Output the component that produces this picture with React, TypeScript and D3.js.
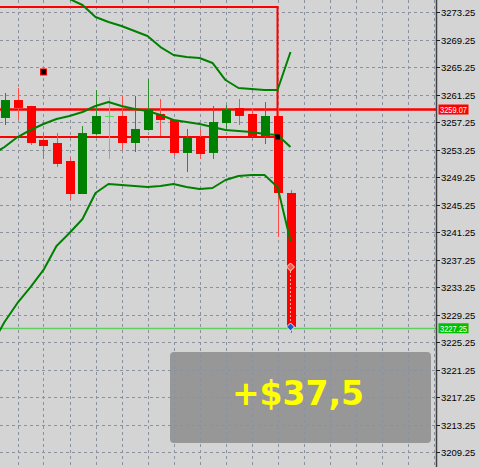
import React from "react";
import * as d3 from "d3";

// bars, oldest first (bar 0 is the leftmost visible one)
const opens = [3257.84, 3260.45, 3259.58, 3254.64, 3254.2, 3251.58, 3246.78, 3255.5, 3258.13, 3258.13, 3254.2, 3256.09, 3258.42, 3257.55, 3252.75, 3255.07, 3252.75, 3257.1, 3259.29, 3258.42, 3255.22, 3258.13, 3246.93];
const highs = [3261.47, 3262.2, 3259.6, 3255.8, 3255.65, 3252.0, 3256.67, 3261.9, 3260.89, 3261.04, 3261.04, 3263.51, 3260.6, 3257.6, 3256.24, 3256.24, 3259.58, 3259.73, 3260.6, 3259.29, 3260.16, 3259.44, 3247.36];
const lows = [3256.82, 3257.55, 3253.91, 3251.87, 3250.71, 3245.9, 3246.78, 3255.3, 3251.87, 3253.18, 3252.89, 3256.0, 3255.22, 3252.31, 3249.98, 3251.87, 3251.87, 3256.09, 3256.82, 3255.1, 3254.05, 3240.53, 3226.56];
const closes = [3260.45, 3259.3, 3254.2, 3253.76, 3251.15, 3246.78, 3255.65, 3258.13, 3258.13, 3254.2, 3256.24, 3259.0, 3257.55, 3252.75, 3254.93, 3252.6, 3257.25, 3259.0, 3258.13, 3255.22, 3258.13, 3246.93, 3227.44];

// bollinger bands, starting one bar before bar 0
const bandUpper = [3280.82, 3279.8, 3278.64, 3277.62, 3276.75, 3276.02, 3275.15, 3274.27, 3272.53, 3271.8, 3271.22, 3270.49, 3269.76, 3268.16, 3267.0, 3266.71, 3266.56, 3265.84, 3263.36, 3262.2, 3262.05, 3261.91, 3261.91, 3267.44];
const bandMiddle = [3252.45, 3253.62, 3255.07, 3256.09, 3256.96, 3257.69, 3258.13, 3258.71, 3259.58, 3260.16, 3259.58, 3259.15, 3258.85, 3258.27, 3257.55, 3257.25, 3256.96, 3256.53, 3256.09, 3255.95, 3255.8, 3255.51, 3255.36, 3253.62];
const bandLower = [3224.82, 3228.16, 3230.93, 3233.25, 3235.73, 3239.22, 3241.11, 3243.15, 3246.93, 3248.24, 3248.09, 3247.95, 3247.8, 3247.95, 3248.24, 3247.8, 3247.51, 3247.65, 3248.82, 3249.4, 3249.55, 3249.55, 3247.8, 3239.95];

const priceTicks = ["3273.25", "3269.25", "3265.25", "3261.25", "3257.25", "3253.25", "3249.25", "3245.25", "3241.25", "3237.25", "3233.25", "3229.25", "3225.25", "3221.25", "3217.25", "3213.25", "3209.25"];

const levelPrice = 3259.07;
const bidPrice = 3227.25;
const boxTop = 3273.98;
const boxBottom = 3255.07;
const boxEndBar = 21;
const stopMark = { bar: 3, price: 3264.53 };
const entryMark = { bar: 22, price: 3236.16 };
const exitMark = { bar: 22, price: 3227.44 };
const profitText = "+$37,5";

const W = 479;
const H = 467;
const plotRight = 436;

const y = d3.scaleLinear().domain([3207.07, 3275]).range([H, 0]);
const x = d3.scaleLinear().domain([0, 22]).range([4.5, 290.5]);

const RED = "#ff0000";
const GREEN = "#008000";
const GRID = "#8b929e";

export default function App() {
  const bandLine = (vals: number[]) =>
    d3.line<number>().x((_, i) => x(i - 1)).y(d => y(d))(vals) || "";
  const gridX = d3.range(1, 34, 2).map(i => Math.round(x(i)) + 0.5);
  const bodyW = 9;

  return (
    <svg width={W} height={H} style={{ position: "fixed", left: 0, top: 0 }}>
      <defs>
        <clipPath id="plot">
          <rect x={0} y={0} width={plotRight} height={H} />
        </clipPath>
      </defs>
      <rect width={W} height={H} fill="#d4d4d4" />
      {/* profit panel sits under the grid */}
      <rect x={170} y={352} width={261} height={91} rx={4} fill="#979797" />
      <g stroke={GRID} strokeDasharray="3,3" strokeWidth={1}>
        {gridX.map(gx => (
          <line key={gx} x1={gx} x2={gx} y1={0} y2={H} />
        ))}
        {priceTicks.map(t => {
          const gy = Math.round(y(+t)) + 0.5;
          return <line key={t} x1={0} x2={plotRight} y1={gy} y2={gy} />;
        })}
      </g>
      <g clipPath="url(#plot)">
        {/* bid line */}
        <line x1={0} x2={plotRight} y1={Math.round(y(bidPrice)) + 0.5} y2={Math.round(y(bidPrice)) + 0.5} stroke="#5fcf5f" strokeWidth={1.5} />
        {/* order box */}
        <path
          d={`M-5,${y(boxTop)}H${x(boxEndBar)}V${y(boxBottom)}H-5`}
          fill="none"
          stroke={RED}
          strokeWidth={2}
        />
        <line x1={0} x2={plotRight} y1={y(levelPrice)} y2={y(levelPrice)} stroke={RED} strokeWidth={2.5} />
        {/* candles */}
        {opens.map((o, i) => {
          const c = closes[i];
          const up = c > o;
          const doji = c === o;
          const col = doji ? "#4fdc4f" : up ? GREEN : RED;
          const wick = doji ? "#4fdc4f" : up ? "#2a8e2a" : "#ff4a4a";
          const top = y(Math.max(o, c));
          const bot = y(Math.min(o, c));
          const cx = Math.round(x(i)) + 0.5;
          return (
            <g key={i}>
              <line x1={cx} x2={cx} y1={y(highs[i])} y2={y(lows[i])} stroke={wick} strokeWidth={1} />
              <rect
                x={cx - bodyW / 2}
                y={top}
                width={bodyW}
                height={Math.max(1, bot - top)}
                fill={col}
              />
            </g>
          );
        })}
        {/* bands */}
        <g fill="none" stroke={GREEN} strokeWidth={2} strokeLinejoin="round">
          <path d={bandLine(bandUpper)} />
          <path d={bandLine(bandMiddle)} />
          <path d={bandLine(bandLower)} />
        </g>
        {/* trade markers */}
        <line
          x1={x(entryMark.bar)}
          x2={x(entryMark.bar)}
          y1={y(entryMark.price)}
          y2={y(exitMark.price)}
          stroke="#ffb0a0"
          strokeDasharray="2,2"
          strokeWidth={1}
        />
        <rect x={x(stopMark.bar) - 3} y={y(stopMark.price) - 3} width={6} height={6} fill="#000" stroke={RED} strokeWidth={1} />
        <rect x={x(boxEndBar) - 2.5} y={y(boxBottom) - 2.5} width={5} height={5} fill="#000" />
        <path
          d={`M${x(entryMark.bar)},${y(entryMark.price) - 4}l4,4l-4,4l-4,-4z`}
          fill="#f06050"
          stroke="#ffe0d0"
          strokeWidth={1}
        />
        <path
          d={`M${x(exitMark.bar)},${y(exitMark.price) - 4}l4,4l-4,4l-4,-4z`}
          fill="#1c5cc8"
          stroke="#e8f0ff"
          strokeWidth={1}
        />
        <path d={`M286,0l4,-3l4,3z`} fill="#8b929e" />
      </g>
      {/* price axis */}
      <line x1={plotRight + 0.5} x2={plotRight + 0.5} y1={0} y2={H} stroke="#404040" strokeWidth={1.5} />
      <g fontFamily="'Liberation Sans Narrow', 'Liberation Sans', Arial, sans-serif" fontSize={9.5}>
        {priceTicks.map(t => {
          const gy = Math.round(y(+t)) + 0.5;
          return (
            <g key={t}>
              <line x1={plotRight} x2={440} y1={gy} y2={gy} stroke="#202020" />
              <text x={441} y={gy} dy="0.35em" fill="#000">
                {t}
              </text>
            </g>
          );
        })}
        <rect x={438.5} y={y(levelPrice) - 5} width={30} height={10} fill={RED} />
        <text x={440} y={y(levelPrice)} dy="0.35em" fill="#fff" textLength={27} lengthAdjust="spacingAndGlyphs">
          {levelPrice.toFixed(2)}
        </text>
        <rect x={438.5} y={y(bidPrice) - 5} width={30} height={10} fill="#00c000" />
        <text x={440} y={y(bidPrice)} dy="0.35em" fill="#fff" textLength={27} lengthAdjust="spacingAndGlyphs">
          {bidPrice.toFixed(2)}
        </text>
      </g>
      <text
        x={298}
        y={405}
        textAnchor="middle"
        fontFamily="'DejaVu Sans', Verdana, sans-serif"
        fontWeight="bold"
        fontSize={33}
        fill="#ffff00"
      >
        {profitText}
      </text>
    </svg>
  );
}
